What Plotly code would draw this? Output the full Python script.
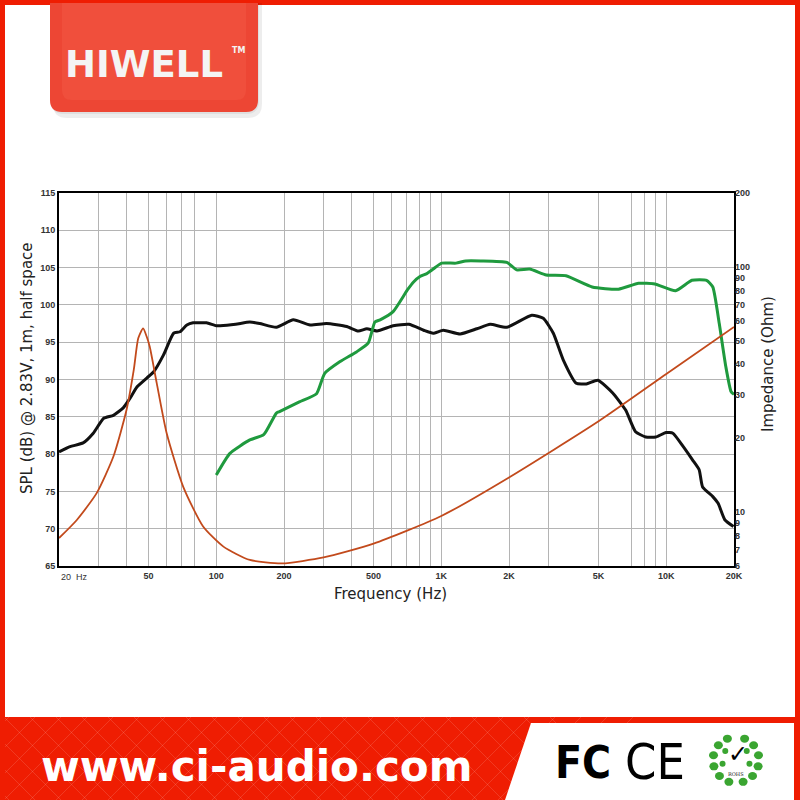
import math
import plotly.graph_objects as go

# ---------------- data ----------------
spl_black_f = [20, 22.4, 25.6, 28.4, 31.6, 34.9, 38.6, 41.4, 44.4, 49.1, 52.6, 58.3, 64.6, 69, 74, 78.9,
               84.4, 90.6, 100, 104, 122, 141, 156, 185, 220, 261, 309, 380, 428, 467, 518, 611, 718,
               835, 920, 1021, 1213, 1440, 1649, 1954, 2524, 2841, 3148, 3487, 3980, 4412, 4967, 5780,
               6598, 7300, 8100, 9000, 9970, 10700, 11900, 13100, 14000, 14500, 16100, 17000, 18200, 19900]
spl_black = [80.3, 81.0, 81.5, 82.8, 84.8, 85.2, 86.2, 87.5, 89.0, 90.2, 91.0, 93.3, 96.2, 96.4, 97.3, 97.6,
             97.6, 97.6, 97.2, 97.2, 97.4, 97.7, 97.5, 97.0, 98.0, 97.3, 97.5, 97.1, 96.5, 96.8, 96.5, 97.2, 97.4,
             96.6, 96.2, 96.6, 96.1, 96.8, 97.4, 97.0, 98.6, 98.2, 96.2, 92.6, 89.5, 89.4, 89.9, 88.2,
             85.9, 83.0, 82.3, 82.3, 82.9, 82.8, 81.0, 79.2, 77.9, 75.6, 74.3, 73.4, 71.2, 70.3]

spl_green_f = [100, 115, 141, 162.5, 185, 191, 234, 279, 303, 355, 420, 474, 507, 535, 611, 707, 755, 804,
               862, 920, 1004, 1163, 1284, 1500, 1955, 2162, 2471, 2929, 3583, 4684, 6133, 7531, 8896,
               11000, 13000, 15100, 16100, 17200, 18400, 19400, 20000]
spl_green = [77.2, 80.1, 81.9, 82.6, 85.5, 85.7, 87.0, 88.1, 90.8, 92.4, 93.7, 94.9, 97.7, 98.0, 99.1, 102.0,
             103.1, 103.8, 104.2, 104.8, 105.6, 105.6, 105.9, 105.9, 105.7, 104.7, 104.8, 104.0, 103.9,
             102.4, 102.1, 102.9, 102.8, 101.9, 103.3, 103.3, 102.4, 97.5, 91.7, 88.4, 88.0]

imp_f = [20, 24, 29.4, 34.9, 39.9, 43, 45, 47.3, 49, 50.6, 54.4, 60.2, 71.4, 87.4, 107.6, 141, 196,
         300, 500, 1000, 2000, 5000, 10000, 20000]
imp_ohm = [7.8, 9.25, 11.9, 16.8, 26, 38, 51, 56, 52, 47.2, 33.4, 20.9, 12.6, 8.7, 7.2, 6.35, 6.15,
           6.5, 7.4, 9.6, 13.8, 23.4, 36.5, 56.8]

freq_grid = [20, 30, 40, 50, 60, 70, 80, 100, 200, 300, 400, 500, 600, 700, 800, 900, 1000,
             2000, 3000, 5000, 7000, 8000, 9000, 10000, 20000]
freq_labels = {50: "50", 100: "100", 200: "200", 500: "500", 1000: "1K", 2000: "2K",
               5000: "5K", 10000: "10K", 20000: "20K"}
spl_ticks = [65, 70, 75, 80, 85, 90, 95, 100, 105, 110, 115]
imp_ticks = [6, 7, 8, 9, 10, 20, 30, 40, 50, 60, 70, 80, 90, 100, 200]

# ---------------- layout geometry ----------------
W, H = 800, 800
L, R, T, B = 59, 734, 193, 566


def PX(x):
    return (x - L) / (R - L)


def PY(y):
    return (B - y) / (B - T)


fig = go.Figure()
fig.add_trace(go.Scatter(x=imp_f, y=imp_ohm, yaxis="y2", mode="lines",
                         line=dict(color="#c24a1c", width=1.8, shape="spline", smoothing=0.6),
                         hoverinfo="skip", showlegend=False))
fig.add_trace(go.Scatter(x=spl_black_f, y=spl_black, mode="lines",
                         line=dict(color="#111111", width=3, shape="spline", smoothing=0.5),
                         showlegend=False))
fig.add_trace(go.Scatter(x=spl_green_f, y=spl_green, mode="lines",
                         line=dict(color="#1f9a3e", width=3, shape="spline", smoothing=0.5),
                         showlegend=False))

tick_font = dict(family="Liberation Sans, Arial", size=9, color="#333333", weight="bold")

fig.update_layout(
    width=W, height=H, autosize=False,
    margin=dict(l=L, r=W - R, t=T, b=H - B, pad=0),
    paper_bgcolor="white", plot_bgcolor="white",
    showlegend=False,
    xaxis=dict(type="log", range=[math.log10(20), math.log10(20000)],
               tickmode="array", tickvals=freq_grid,
               ticktext=[freq_labels.get(f, "") for f in freq_grid],
               showgrid=True, gridcolor="#b4b4b4", gridwidth=1.3,
               showline=True, linecolor="black", linewidth=2, mirror=True,
               ticks="", tickfont=tick_font, zeroline=False),
    yaxis=dict(range=[65, 115], tickmode="array", tickvals=spl_ticks,
               ticktext=[str(v) for v in spl_ticks],
               showgrid=True, gridcolor="#b4b4b4", gridwidth=1.3,
               showline=True, linecolor="black", linewidth=2, mirror=True,
               ticks="", tickfont=tick_font, zeroline=False),
    yaxis2=dict(type="log", overlaying="y", side="right",
                range=[math.log10(6), math.log10(200)],
                tickmode="array", tickvals=imp_ticks, ticktext=[str(v) for v in imp_ticks],
                showgrid=False, showline=False, ticks="", tickfont=tick_font, zeroline=False),
)

shapes = []
red = "#ef1d02"

# bottom red band
shapes.append(dict(type="rect", xref="paper", yref="paper", x0=PX(0), x1=PX(800), y0=PY(800), y1=PY(717),
                   fillcolor=red, line=dict(width=0), layer="above"))
# diamond pattern in band
step = 26
for k in range(-100, 560, step):
    shapes.append(dict(type="line", xref="paper", yref="paper", x0=PX(k), y0=PY(800), x1=PX(k + 83), y1=PY(717),
                       line=dict(color="rgba(255,255,255,0.13)", width=1), layer="above"))
    shapes.append(dict(type="line", xref="paper", yref="paper", x0=PX(k), y0=PY(717), x1=PX(k + 83), y1=PY(800),
                       line=dict(color="rgba(255,255,255,0.13)", width=1), layer="above"))
# white trapezoid
trap = "M {},{} L {},{} L {},{} L {},{} Z".format(PX(531), PY(723), PX(794), PY(723), PX(794), PY(800),
                                                  PX(505), PY(800))
shapes.append(dict(type="path", xref="paper", yref="paper", path=trap, fillcolor="white",
                   line=dict(width=0), layer="above"))
# red frame
shapes.append(dict(type="rect", xref="paper", yref="paper", x0=PX(0), x1=PX(5), y0=PY(800), y1=PY(0),
                   fillcolor=red, line=dict(width=0), layer="above"))
shapes.append(dict(type="rect", xref="paper", yref="paper", x0=PX(795), x1=PX(800), y0=PY(800), y1=PY(0),
                   fillcolor=red, line=dict(width=0), layer="above"))
shapes.append(dict(type="rect", xref="paper", yref="paper", x0=PX(0), x1=PX(800), y0=PY(5), y1=PY(0),
                   fillcolor=red, line=dict(width=0), layer="above"))


# logo shadow and logo
def rounded(x0, y0, x1, y1, r):
    return ("M {a},{b} L {c},{b} L {c},{d} Q {c},{e} {f},{e} L {g},{e} Q {a},{e} {a},{d} Z"
            .format(a=PX(x0), b=PY(y0), c=PX(x1), d=PY(y1 - r), e=PY(y1), f=PX(x1 - r), g=PX(x0 + r)))


shapes.append(dict(type="path", xref="paper", yref="paper", path=rounded(53, 3, 262, 118, 14),
                   fillcolor="rgba(0,0,0,0.07)", line=dict(width=0), layer="above"))
shapes.append(dict(type="path", xref="paper", yref="paper", path=rounded(51, 3, 259, 114, 13),
                   fillcolor="rgba(0,0,0,0.06)", line=dict(width=0), layer="above"))
shapes.append(dict(type="path", xref="paper", yref="paper", path=rounded(50, 3, 258, 112, 12),
                   fillcolor="#ed4634", line=dict(width=0), layer="above"))
shapes.append(dict(type="path", xref="paper", yref="paper", path=rounded(62, 3, 246, 100, 10),
                   fillcolor="rgba(255,120,100,0.18)", line=dict(width=0), layer="above"))

# RoHS wreath: two laurel branches meeting at the bottom, open at the top
cx, cy, rr = 736, 760, 23
for i in range(6):
    a_left = math.radians(112 + i * 28)
    a_right = math.radians(68 - i * 28)
    for a in (a_left, a_right):
        lx = cx + rr * math.cos(a)
        ly = cy - rr * math.sin(a)
        shapes.append(dict(type="circle", xref="paper", yref="paper",
                           x0=PX(lx - 4.5), x1=PX(lx + 4.5), y0=PY(ly + 4), y1=PY(ly - 4),
                           fillcolor="#3aa531", line=dict(width=0), layer="above"))
    for a in (a_left, a_right):
        if i in (1, 3):
            lx2 = cx + (rr - 9) * math.cos(a)
            ly2 = cy - (rr - 9) * math.sin(a)
            shapes.append(dict(type="circle", xref="paper", yref="paper",
                               x0=PX(lx2 - 3), x1=PX(lx2 + 3), y0=PY(ly2 + 3), y1=PY(ly2 - 3),
                               fillcolor="#3aa531", line=dict(width=0), layer="above"))

fig.update_layout(shapes=shapes)

ann = []


def text(x, y, s, size, color="black", xanchor="center", yanchor="middle", family="DejaVu Sans", angle=0):
    ann.append(dict(x=PX(x), y=PY(y), xref="paper", yref="paper", text=s, showarrow=False,
                    font=dict(size=size, color=color, family=family), xanchor=xanchor, yanchor=yanchor,
                    textangle=angle))


text(59, 577, "20&nbsp;&nbsp;Hz", 9, color="#333333", xanchor="left", family="Liberation Sans, Arial")
text(390, 594, "Frequency (Hz)", 15, color="#222222", family="DejaVu Sans")
text(27, 368, "SPL (dB) @ 2.83V, 1m, half space", 15, color="#222222", angle=-90)
text(768, 364, "Impedance (Ohm)", 15, color="#222222", angle=-90)
text(144, 64, "<b>HIWELL</b>", 37, color="#f4f4f4")
text(238, 50, "<b>TM</b>", 8, color="#f4f4f4")
text(256, 766, "<b>www.ci-audio.com</b>", 42, color="white")
text(583, 762, "<b>FC</b>", 44, color="black", family="DejaVu Sans Condensed, DejaVu Sans")
text(655, 762, "CE", 50, color="black", family="DejaVu Sans Condensed, DejaVu Sans")
text(738, 754, "<b>✓</b>", 24, color="black")
text(736, 774, "ROHS", 5, color="#222222", family="DejaVu Serif")

fig.update_layout(annotations=ann)

fig.write_html("out.html", config={"displayModeBar": False},
               post_script="document.body.style.margin='0';document.body.style.overflow='hidden';")
